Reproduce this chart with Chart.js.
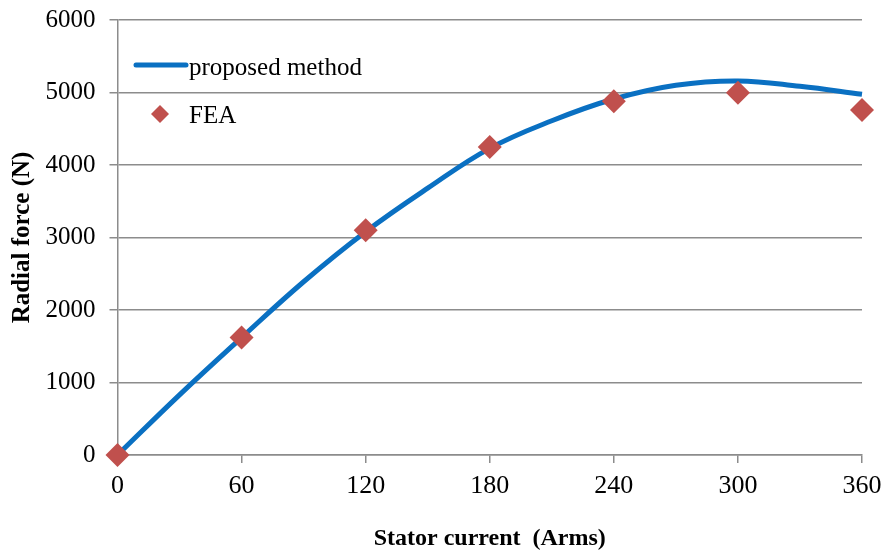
<!DOCTYPE html>
<html>
<head>
<meta charset="utf-8">
<script src="https://cdn.jsdelivr.net/npm/chart.js@4.4.1/dist/chart.umd.min.js"></script>
<style>
  html, body { margin: 0; padding: 0; background: #fff; }
  #wrap { width: 885px; height: 553px; position: relative; }
</style>
</head>
<body>
<div id="wrap"><canvas id="forceChart"></canvas></div>
<script>
// Radial force vs stator current
const currentTicks = [0, 60, 120, 180, 240, 300, 360];
const modelCurrent = [0, 30, 60, 90, 120, 150, 180, 210, 240, 270, 300, 330, 360];
const modelForce = [0, 830, 1620, 2390, 3080, 3680, 4230, 4610, 4910, 5100, 5160, 5085, 4975];
const feaCurrent = [0, 60, 120, 180, 240, 300, 360];
const feaForce = [0, 1620, 3100, 4250, 4880, 4995, 4760];

const serif = '"Liberation Serif", "Times New Roman", serif';
const gridGray = '#8c8c8c';

const toPoints = (xs, ys) => xs.map((x, i) => ({ x: x, y: ys[i] }));

// legend drawn inside the plot, upper left
const insideLegend = {
    id: 'insideLegend',
    afterDraw(chart) {
        const ctx = chart.ctx;
        const line = chart.data.datasets[0];
        const fea = chart.data.datasets[1];
        ctx.save();
        ctx.font = '25px ' + serif;
        ctx.fillStyle = '#000';
        ctx.textBaseline = 'middle';

        ctx.strokeStyle = line.borderColor;
        ctx.lineWidth = 5;
        ctx.lineCap = 'round';
        ctx.beginPath();
        ctx.moveTo(136, 65);
        ctx.lineTo(186, 65);
        ctx.stroke();
        ctx.fillText(line.label, 189, 68);

        ctx.fillStyle = fea.backgroundColor;
        ctx.beginPath();
        ctx.moveTo(160, 105);
        ctx.lineTo(169, 114);
        ctx.lineTo(160, 123);
        ctx.lineTo(151, 114);
        ctx.closePath();
        ctx.fill();
        ctx.fillStyle = '#000';
        ctx.fillText(fea.label, 189, 116);
        ctx.restore();
    }
};

new Chart(document.getElementById('forceChart').getContext('2d'), {
    type: 'scatter',
    data: {
        datasets: [{
            label: 'proposed method',
            type: 'line',
            data: toPoints(modelCurrent, modelForce),
            borderColor: '#0a70c2',
            borderWidth: 5,
            pointRadius: 0,
            tension: 0.4,
            fill: false,
            clip: false,
            order: 2
        }, {
            label: 'FEA',
            data: toPoints(feaCurrent, feaForce),
            backgroundColor: '#c0504d',
            borderColor: '#c0504d',
            borderWidth: 0,
            pointStyle: 'rectRot',
            pointRadius: 12,
            clip: false,
            order: 1
        }]
    },
    options: {
        responsive: true,
        maintainAspectRatio: false,
        animation: false,
        layout: {
            padding: { top: 20, right: 23, left: 0, bottom: 0 }
        },
        scales: {
            x: {
                type: 'linear',
                min: 0,
                max: 360,
                afterFit: (axis) => {
                    axis.height = 98;
                    axis.paddingLeft = 0;
                    axis.paddingRight = 0;
                },
                afterBuildTicks: (axis) => { axis.ticks = currentTicks.map(v => ({ value: v })); },
                grid: {
                    drawOnChartArea: false,
                    drawTicks: true,
                    tickLength: 8,
                    color: gridGray,
                    lineWidth: 1.5
                },
                border: { display: true, color: gridGray, width: 1.5 },
                ticks: {
                    font: { family: serif, size: 26 },
                    color: '#000',
                    padding: 8,
                    maxRotation: 0
                },
                title: {
                    display: true,
                    text: 'Stator current  (Arms)',
                    font: { family: serif, size: 24, weight: 'bold' },
                    color: '#000',
                    padding: { top: 0, bottom: 0 }
                }
            },
            y: {
                min: 0,
                max: 6000,
                afterFit: (axis) => {
                    axis.width = 117.5;
                    axis.paddingTop = 0;
                    axis.paddingBottom = 0;
                },
                ticks: {
                    stepSize: 1000,
                    font: { family: serif, size: 25 },
                    color: '#000',
                    padding: 14,
                    callback: (v) => String(v)
                },
                grid: {
                    color: gridGray,
                    lineWidth: 1.5,
                    tickLength: 8
                },
                border: { display: true, color: gridGray, width: 1.5 },
                title: {
                    display: true,
                    text: 'Radial force (N)',
                    font: { family: serif, size: 25, weight: 'bold' },
                    color: '#000',
                    padding: { top: 8, bottom: 0 }
                }
            }
        },
        plugins: {
            legend: { display: false },
            tooltip: { enabled: false }
        }
    },
    plugins: [insideLegend]
});
</script>
</body>
</html>
